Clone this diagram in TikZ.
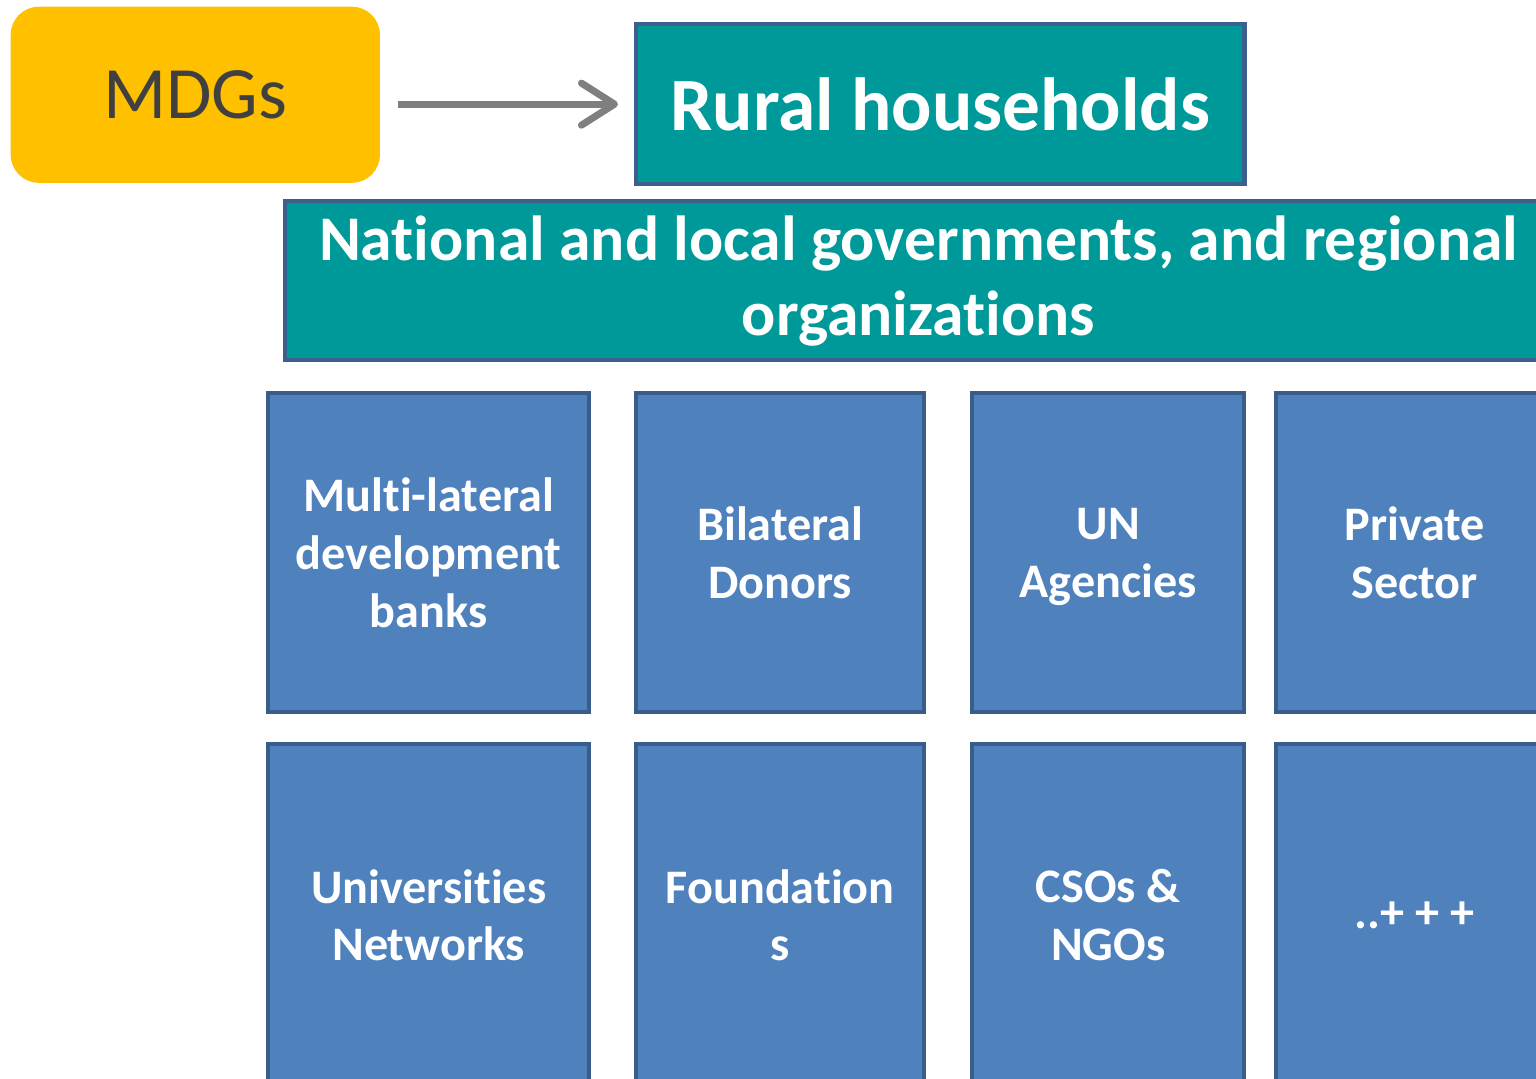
\documentclass[tikz,border=0pt]{standalone}
\usepackage{fontspec}
\setmainfont{Carlito}[Ligatures={NoCommon}]
\usepackage{xcolor}
\usepackage{tikz}
\usetikzlibrary{positioning}
\usetikzlibrary{arrows, arrows.meta}

\definecolor{goalyellow}{HTML}{FFC000}
\definecolor{goaltext}{HTML}{404040}
\definecolor{flowgray}{HTML}{7F7F7F}
\definecolor{govteal}{HTML}{009999}
\definecolor{govedge}{HTML}{3D5F8D}
\definecolor{actorblue}{HTML}{4F81BD}
\definecolor{actoredge}{HTML}{385D8A}

\tikzset{
  goalbox/.style={fill=goalyellow, rounded corners=0.28cm, anchor=north west,
    text=goaltext, font=\fontsize{21pt}{25pt}\selectfont},
  govbox/.style={fill=govteal, draw=govedge, line width=1.2pt, anchor=north west,
    text=white, align=center, font=\bfseries\fontsize{18.1pt}{21.3pt}\selectfont},
  actor/.style={fill=actorblue, draw=actoredge, line width=1.2pt, anchor=north west,
    text=white, align=center, font=\bfseries\fontsize{13.7pt}{16.4pt}\selectfont},
  flow/.style={draw=flowgray, line width=2pt,
    -{Straight Barb[length=0.33cm,width=0.42cm,line cap=round,line join=round]}},
}

\begin{document}
\begin{tikzpicture}[x=0.01cm, y=-0.01cm]
  \useasboundingbox (0,0) rectangle (1536,1078);
  \clip (0,0) rectangle (1536,1078);

  % top row
  \node[goalbox, minimum width=3.69cm, minimum height=1.76cm] (mdgs) at (10,6) {MDGs};
  \node[govbox, minimum width=6.08cm, minimum height=1.60cm,
    font=\bfseries\fontsize{21.4pt}{25pt}\selectfont] (rural) at (634,22) {Rural households};
  \draw[flow, shorten <=0.17cm, shorten >=0.16cm] (mdgs.east |- rural.west) -- (rural.west);

  \node[govbox, minimum width=12.66cm, minimum height=1.59cm] (gov) at (283,199)
    {National and local governments, and regional\\organizations};

  % first row of actors
  \node[actor, minimum width=3.21cm, minimum height=3.19cm] (mdb) at (266,391)
    {Multi-lateral\\development\\banks};
  \node[actor, minimum width=2.88cm, minimum height=3.19cm] (bilat) at (634,391)
    {Bilateral\\Donors};
  \node[actor, minimum width=2.72cm, minimum height=3.19cm] (un) at (970,391)
    {UN\strut\\Agencies};
  \node[actor, minimum width=2.77cm, minimum height=3.19cm] (private) at (1274,391)
    {Private\\Sector};

  % second row of actors
  \node[actor, minimum width=3.21cm, minimum height=3.42cm] (univ) at (266,742)
    {Universities\\Networks};
  \node[actor, minimum width=2.88cm, minimum height=3.42cm] (found) at (634,742)
    {Foundation\\s};
  \node[actor, minimum width=2.72cm, minimum height=3.42cm] (cso) at (970,742)
    {CSOs \&\\NGOs};
  \node[actor, minimum width=2.77cm, minimum height=3.42cm] (more) at (1274,742)
    {..+ + +};
\end{tikzpicture}
\end{document}
